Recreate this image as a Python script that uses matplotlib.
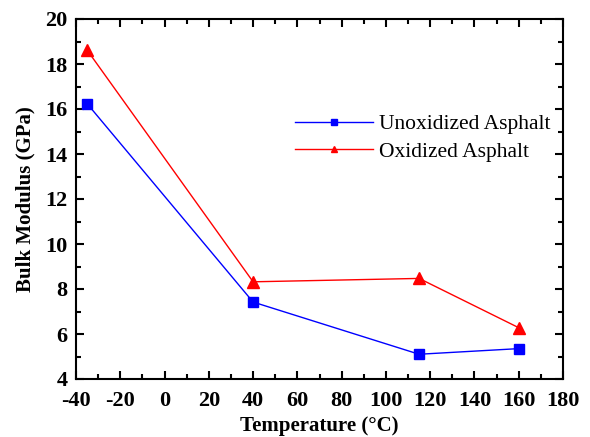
import matplotlib.pyplot as plt
from matplotlib.ticker import MultipleLocator

temperature = [-35, 40, 115, 160]
unoxidized = [16.24, 7.42, 5.1, 5.35]
oxidized = [18.62, 8.32, 8.47, 6.28]

x_ticks = list(range(-40, 181, 20))
y_ticks = list(range(4, 21, 2))

plt.rcParams["font.family"] = "Liberation Serif"
plt.rcParams["axes.unicode_minus"] = False

fig = plt.figure(figsize=(5.9, 4.37), dpi=100)
ax = fig.add_axes([76 / 590, 1 - 379 / 437, 487 / 590, 360 / 437])

ax.plot(temperature, unoxidized, color="blue", lw=1, marker="s", ms=7,
        label="Unoxidized Asphalt")
ax.plot(temperature, oxidized, color="red", lw=1, marker="^", ms=8,
        label="Oxidized Asphalt")

ax.set_xlim(-40, 180)
ax.set_ylim(4, 20)
ax.set_xticks(x_ticks)
ax.set_yticks(y_ticks)
ax.xaxis.set_minor_locator(MultipleLocator(10))
ax.yaxis.set_minor_locator(MultipleLocator(1))
ax.tick_params(which="both", direction="in", top=True, right=True, width=1.5)
ax.tick_params(which="major", length=6, labelsize=16)
ax.tick_params(axis="x", which="major", pad=9)
ax.tick_params(axis="y", which="major", pad=6)
ax.tick_params(which="minor", length=3.5)
for lab in ax.get_xticklabels() + ax.get_yticklabels():
    lab.set_fontweight("bold")
for s in ax.spines.values():
    s.set_linewidth(1.5)

ax.set_xlabel("Temperature (°C)", fontsize=15, fontweight="bold", labelpad=3)
ax.set_ylabel("Bulk Modulus (GPa)", fontsize=15, fontweight="bold", labelpad=7)

ax.legend(loc="upper left", bbox_to_anchor=(0.41, 0.79), frameon=False,
          fontsize=15.5, handlelength=3.6, handletextpad=0.3,
          markerscale=0.6, labelspacing=0.35)

fig.savefig("out.png", dpi=100)
